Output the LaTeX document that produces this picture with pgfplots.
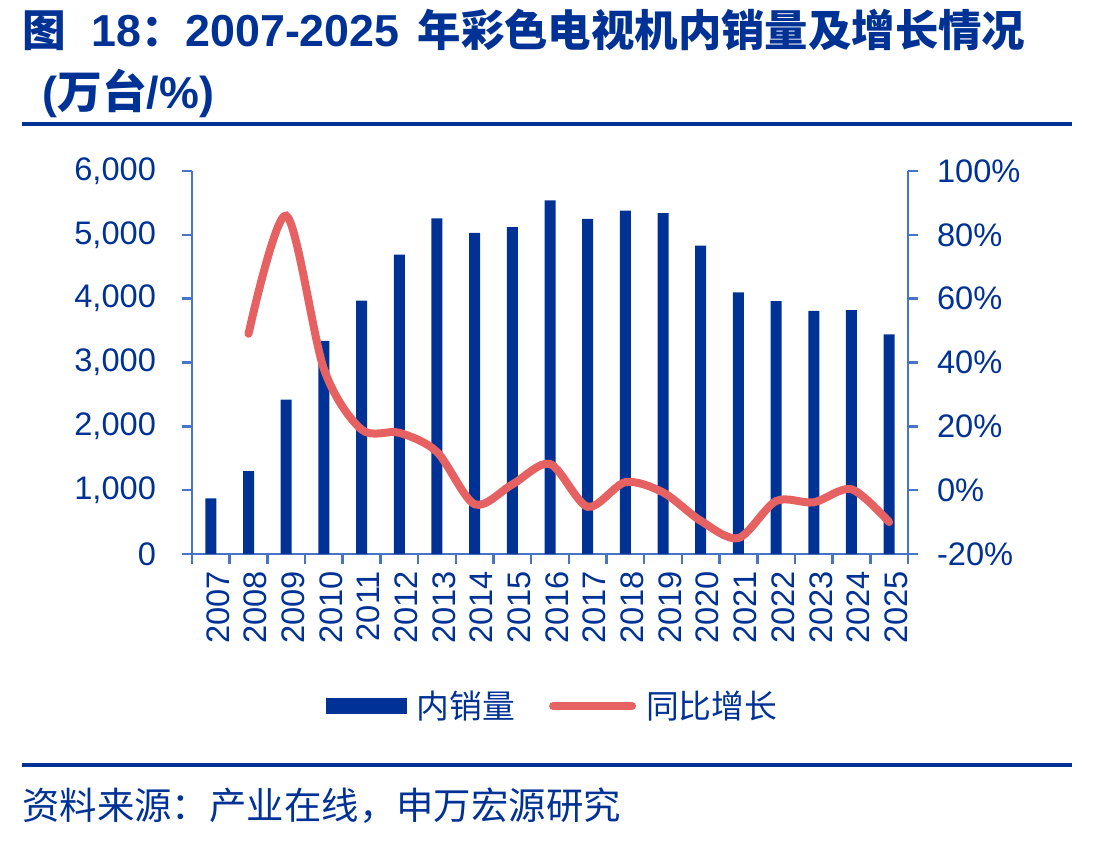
\documentclass[border=0pt]{standalone}
\usepackage{pgfplots}
\pgfplotsset{compat=1.18}
\usepackage{fontspec}
\setmainfont{Liberation Sans}
\newfontfamily\cjk{Noto Sans CJK SC}
\definecolor{navy}{RGB}{0,50,150}
\definecolor{axisblue}{RGB}{72,116,198}
\definecolor{salmon}{RGB}{230,98,98}

\begin{document}
\begin{tikzpicture}[x=0.5pt,y=-0.5pt]
\path[use as bounding box] (0,0) rectangle (1118,842);

% heading
\node[anchor=base west, inner sep=0, text=navy, font=\fontsize{22.4}{22.4}\selectfont\bfseries]
  at (22,46) {{\cjk\fontsize{21.8}{21.8}\selectfont 图}\hspace{13pt}18{\cjk\fontsize{21.8}{21.8}\selectfont ：}2007-2025\hspace{9pt}{\cjk\fontsize{21.7}{21.7}\selectfont 年彩色电视机内销量及增长情况}};
\node[anchor=base west, inner sep=0, text=navy, font=\fontsize{22.4}{22.4}\selectfont\bfseries]
  at (42,108) {({\cjk 万台}/\%)};
\draw[navy, line width=2pt] (22,124) -- (1072,124);

% source
\draw[navy, line width=1.8pt] (22,765) -- (1072,765);
\node[anchor=west, inner sep=0, text=navy, font=\cjk\fontsize{18.7}{18.7}\selectfont]
  at (22,806) {资料来源：产业在线，申万宏源研究};

% sales volume (left axis)
\begin{axis}[
  at={(96pt,-277pt)}, anchor=south west,
  scale only axis, width=358pt, height=191.5pt,
  xmin=-0.5, xmax=18.5, ymin=0, ymax=6000,
  axis y line*=left, axis x line*=bottom,
  axis line style={axisblue, line width=1.25pt},
  tick align=outside,
  major tick length=5pt, minor tick length=5pt,
  ytick={0,1000,...,6000},
  ytick style={axisblue, line width=1.25pt},
  xtick={0,...,18},
  xticklabels={2007,2008,2009,2010,2011,2012,2013,2014,2015,2016,2017,2018,2019,2020,2021,2022,2023,2024,2025},
  major x tick style={draw=none},
  minor xtick={-0.5,0.5,...,18.5},
  minor x tick style={axisblue, line width=1.25pt},
  yticklabel style={font=\fontsize{16.3}{16.3}\selectfont, text=navy, xshift=-9.5pt},
  xticklabel style={font=\fontsize{16.3}{16.3}\selectfont, text=navy, rotate=90, anchor=east, yshift=-3.5pt},
  /pgf/number format/assume math mode=true,
  /pgf/number format/1000 sep={,},
  clip=false,
]
\addplot[ybar, bar width=5.5pt, fill=navy, draw=none] coordinates {
  (0,870) (1,1300) (2,2420) (3,3340) (4,3970) (5,4690) (6,5260) (7,5030)
  (8,5120) (9,5540) (10,5250) (11,5380) (12,5340) (13,4830) (14,4100)
  (15,3960) (16,3810) (17,3820) (18,3440)
};
\end{axis}

% year-on-year growth (right axis)
\begin{axis}[
  at={(96pt,-277pt)}, anchor=south west,
  scale only axis, width=358pt, height=191.5pt,
  xmin=-0.5, xmax=18.5, ymin=-20, ymax=100,
  axis y line*=right, axis x line=none,
  axis line style={axisblue, line width=1.25pt},
  tick align=outside, major tick length=5pt,
  ytick={-20,0,...,100},
  ytick style={axisblue, line width=1.25pt},
  yticklabel={\pgfmathprintnumber{\tick}\%},
  yticklabel style={font=\fontsize{16.3}{16.3}\selectfont, text=navy, xshift=6pt},
  /pgf/number format/assume math mode=true,
  legend columns=2,
  legend style={at={(0.505,-0.397)}, anchor=center, draw=none, fill=none,
    font=\cjk\fontsize{16.4}{16.4}\selectfont, text=navy,
    /tikz/every even column/.append style={column sep=15pt}},
]
\addlegendimage{legend image code/.code={\fill[navy] (0pt,-3.75pt) rectangle (40pt,3.75pt); \path (43pt,0pt);}}
\addlegendentry{内销量}
\addplot[salmon, line width=4pt, smooth, line cap=round,
  legend image code/.code={\draw[salmon, line width=4pt, line cap=round] (2pt,0pt) -- (41.5pt,0pt); \path (44.5pt,0pt);}]
  coordinates {
  (1,49) (2,86) (3,38) (4,19) (5,18) (6,12) (7,-4.4) (8,1.8) (9,8.2)
  (10,-5.2) (11,2.5) (12,-0.7) (13,-9.6) (14,-15) (15,-3.4) (16,-3.8)
  (17,0.3) (18,-10)
};
\addlegendentry{同比增长}
\end{axis}
\end{tikzpicture}
\end{document}
